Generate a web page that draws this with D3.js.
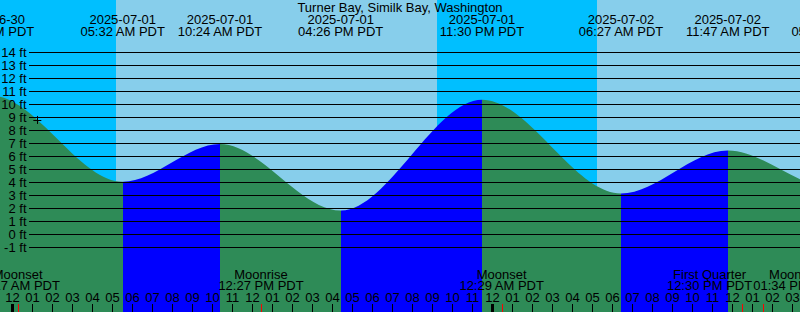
<!DOCTYPE html>
<html>
<head>
<meta charset="utf-8">
<script src="https://cdn.jsdelivr.net/npm/d3@7"></script>
<style>
  html, body { margin: 0; padding: 0; background: #fff; }
  svg { display: block; }
  text { font-family: "Liberation Sans", Arial, sans-serif; font-size: 13px; fill: #000; }
</style>
</head>
<body>
<div id="chart"></div>
<script>
/* Tide graph: Turner Bay, Similk Bay, Washington */

const title = 'Turner Bay, Similk Bay, Washington';

// high / low tides (local time, PDT) and heights in ft
const tideTimes = ['2025-06-30 16:40', '2025-06-30 22:59', '2025-07-01 05:32', '2025-07-01 10:24',
  '2025-07-01 16:26', '2025-07-01 23:30', '2025-07-02 06:27', '2025-07-02 11:47',
  '2025-07-02 17:06', '2025-07-02 23:50'];
const tideHeights = [2.0, 10.6, 4.0, 6.9, 1.8, 10.3, 3.1, 6.4, 3.5, 10.0];

// daylight intervals
const sunrises = ['2025-07-01 05:12', '2025-07-02 05:15'];
const sunsets = ['2025-07-01 21:15', '2025-07-02 21:16'];

// moon events shown along the bottom
const moonNames = ['Moonset', 'Moonrise', 'Moonset', 'First Quarter', 'Moonrise'];
const moonTimes = ['2025-07-01 00:17', '2025-07-01 12:27', '2025-07-02 00:29', '2025-07-02 12:30', '2025-07-02 13:34'];

// current time marker
const markTime = '2025-07-01 01:16';
const markHeight = 8.75;

const yTicks = d3.range(-1, 15);

const W = 800, H = 312;
const parse = d3.timeParse('%Y-%m-%d %H:%M');
const fmtDate = d3.timeFormat('%Y-%m-%d');
const fmtTime = d3.timeFormat('%I:%M %p PDT');
const fmtHour = d3.timeFormat('%I');

const colors = { night: '#00bfff', day: '#87ceeb', flood: '#0000ff', ebb: '#2e8b57' };

const svg = d3.select('#chart').append('svg')
  .attr('width', W).attr('height', H);

const x = d3.scaleTime()
  .domain([parse('2025-07-01 00:00'), parse('2025-07-02 00:00')])
  .range([12, 492]);
const y = d3.scaleLinear().domain([0, 14]).range([234, 51.5]);

// background: night everywhere, then day bands
svg.append('rect').attr('width', W).attr('height', H).attr('fill', colors.night);
svg.selectAll('.day').data(sunrises.map((s, i) => [parse(s), parse(sunsets[i])])).enter().append('rect')
  .attr('class', 'day')
  .attr('x', d => Math.round(x(d[0])))
  .attr('y', 0)
  .attr('width', d => Math.round(x(d[1])) - Math.round(x(d[0])))
  .attr('height', H)
  .attr('fill', colors.day);

// tide curve, coloured by rising / falling segment
const tides = tideTimes.map((t, i) => ({ t: parse(t), h: tideHeights[i] }));
const area = d3.area()
  .x(d => x(d.t))
  .y0(H)
  .y1(d => y(d.h))
  .curve(d3.curveMonotoneX);

const defs = svg.append('defs');
tides.slice(0, -1).forEach((d, i) => {
  const next = tides[i + 1];
  defs.append('clipPath').attr('id', 'seg' + i)
    .append('rect')
    .attr('x', Math.round(x(d.t)))
    .attr('y', 0)
    .attr('width', Math.round(x(next.t)) - Math.round(x(d.t)))
    .attr('height', H);
  svg.append('path')
    .datum(tides)
    .attr('d', area)
    .attr('clip-path', `url(#seg${i})`)
    .attr('fill', next.h > d.h ? colors.flood : colors.ebb);
});

// depth lines and labels
svg.selectAll('.grid').data(yTicks).enter().append('line')
  .attr('x1', 29).attr('x2', W)
  .attr('y1', d => Math.round(y(d)) + 0.5)
  .attr('y2', d => Math.round(y(d)) + 0.5)
  .attr('stroke', '#000')
  .attr('stroke-width', 1);

svg.selectAll('.ylab').data(yTicks).enter().append('text')
  .attr('x', 26.5)
  .attr('y', d => Math.round(y(d)) + 4.5)
  .attr('text-anchor', 'end')
  .text(d => d + ' ft');

// "+" marker
const mx = x(parse(markTime)), my = y(markHeight);
svg.append('path')
  .attr('d', `M${mx - 4},${Math.round(my) + 0.5}h8M${Math.round(mx) + 0.5},${my - 4}v8`)
  .attr('stroke', '#000')
  .attr('fill', 'none');

// title and tide labels
svg.append('text').attr('x', 400).attr('y', 12)
  .attr('text-anchor', 'middle')
  .text(title);

const tl = svg.selectAll('.tlab').data(tides).enter().append('g')
  .attr('transform', d => `translate(${x(d.t)},0)`);
tl.append('text').attr('y', 23.5).attr('text-anchor', 'middle').text(d => fmtDate(d.t));
tl.append('text').attr('y', 35.5).attr('text-anchor', 'middle').text(d => fmtTime(d.t));

// moon event labels, pushed apart where they collide
const moons = moonNames.map((n, i) => ({ name: n, t: parse(moonTimes[i]) }));
const ml = svg.selectAll('.mlab').data(moons).enter().append('g');
ml.append('text').attr('y', 278.5).attr('text-anchor', 'middle').text(d => d.name);
ml.append('text').attr('y', 290).attr('text-anchor', 'middle').text(d => fmtTime(d.t));
ml.each(function(d) {
  d.cx = x(d.t);
  d.w = d3.max(d3.select(this).selectAll('text').nodes(), n => n.getComputedTextLength());
});
for (let i = 0; i < moons.length - 1; i++) {
  const a = moons[i], b = moons[i + 1];
  const overlap = (a.cx + a.w / 2) - (b.cx - b.w / 2) + 1;
  if (overlap > 0) { a.cx -= overlap / 2; b.cx += overlap / 2; }
}
ml.attr('transform', d => `translate(${d.cx},0)`);

// hour labels and ticks
const hours = d3.timeHour.range(parse('2025-06-30 23:00'), parse('2025-07-03 00:00'));
svg.selectAll('.hlab').data(hours).enter().append('text')
  .attr('x', d => x(d) + 0.5)
  .attr('y', 302)
  .attr('text-anchor', 'middle')
  .text(d => fmtHour(d));

svg.selectAll('.htick').data(hours).enter().append('line')
  .attr('x1', d => Math.round(x(d)) + 0.5)
  .attr('x2', d => Math.round(x(d)) + 0.5)
  .attr('y1', 304).attr('y2', H)
  .attr('stroke', '#000')
  .attr('stroke-width', d => d.getHours() === 0 ? 3 : 1);

svg.selectAll('.mtick').data(moons).enter().append('line')
  .attr('x1', d => Math.round(x(d.t)) + 0.5)
  .attr('x2', d => Math.round(x(d.t)) + 0.5)
  .attr('y1', 304).attr('y2', H)
  .attr('stroke', '#ff0000')
  .attr('stroke-width', 1);
</script>
</body>
</html>
